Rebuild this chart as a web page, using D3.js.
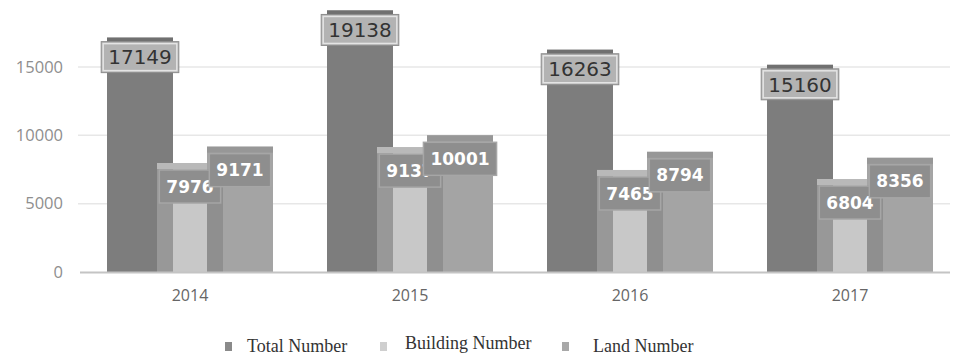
<!DOCTYPE html>
<html>
<head>
<meta charset="utf-8">
<script src="https://cdn.jsdelivr.net/npm/d3@7/dist/d3.min.js"></script>
<style>
  html, body { margin: 0; padding: 0; background: #fff; }
  svg { display: block; }
</style>
</head>
<body>
<svg id="chart" width="961" height="359"></svg>
<script>
// Yearly counts by category
const years = ["2014", "2015", "2016", "2017"];
const seriesNames = ["Total Number", "Building Number", "Land Number"];
const totalValues = [17149, 19138, 16263, 15160];
const buildingValues = [7976, 9137, 7465, 6804];
const landValues = [9171, 10001, 8794, 8356];
const yTicks = [0, 5000, 10000, 15000];

const seriesValues = [totalValues, buildingValues, landValues];
const fills = ["#7d7d7d", "#c8c8c8", "#a4a4a4"];
const caps = ["#707070", "#b9b9b9", "#979797"];
const overlapFills = ["#989898", "#8f8f8f"];
const legendFills = ["#8a8a8a", "#cfcfcf", "#a8a8a8"];

const svg = d3.select("#chart");

const x = d3.scaleBand().domain(years).range([80, 960]).paddingInner(0).paddingOuter(0);
const y = d3.scaleLinear().domain([0, 15000]).range([272, 67]);
const offset = d3.scalePoint().domain(seriesNames).range([-50, 50]);
const barW = 66;

// gridlines
svg.append("g")
  .selectAll("line")
  .data(yTicks.filter(d => d > 0))
  .join("line")
  .attr("x1", 78).attr("x2", 950)
  .attr("y1", d => y(d)).attr("y2", d => y(d))
  .attr("stroke", "#e7e7e7").attr("stroke-width", 1.5);

// y axis labels
const yAxis = d3.axisLeft(y).tickValues(yTicks).tickSize(0).tickPadding(0).tickFormat(d3.format("d"));
const yg = svg.append("g").attr("transform", "translate(63,0)").call(yAxis);
yg.select(".domain").remove();
yg.selectAll("text")
  .attr("font-family", "Open Sans").attr("font-size", 16.5).attr("fill", "#8e8e8e");

// bars
const bars = [];
years.forEach((yr, i) => {
  seriesNames.forEach((s, k) => {
    bars.push({ year: yr, series: s, k: k, value: seriesValues[k][i],
      x0: x(yr) + x.bandwidth() / 2 + offset(s) - barW / 2 });
  });
});

const barG = svg.append("g");
bars.forEach(b => {
  barG.append("rect")
    .attr("x", b.x0).attr("y", y(b.value))
    .attr("width", barW).attr("height", y(0) - y(b.value))
    .attr("fill", fills[b.k]);
  barG.append("rect")
    .attr("x", b.x0).attr("y", y(b.value))
    .attr("width", barW).attr("height", 6)
    .attr("fill", caps[b.k]);
});

// shaded strips where neighbouring bars overlap
years.forEach((yr, i) => {
  for (let k = 0; k < 2; k++) {
    const a = bars.find(b => b.year === yr && b.k === k);
    const c = bars.find(b => b.year === yr && b.k === k + 1);
    const top = y(Math.min(a.value, c.value));
    barG.append("rect")
      .attr("x", c.x0).attr("y", top + 6)
      .attr("width", a.x0 + barW - c.x0).attr("height", y(0) - top - 6)
      .attr("fill", overlapFills[k]);
  }
});

// baseline
svg.append("line")
  .attr("x1", 80).attr("x2", 950).attr("y1", y(0) + 0.5).attr("y2", y(0) + 0.5)
  .attr("stroke", "#c4c4c4").attr("stroke-width", 2);

// x axis labels
const xAxis = d3.axisBottom(x).tickSize(0).tickPadding(0);
const xg = svg.append("g").attr("transform", "translate(0,290)").call(xAxis);
xg.select(".domain").remove();
xg.selectAll("text")
  .attr("font-family", "Open Sans").attr("font-size", 16).attr("fill", "#666").attr("dy", "0.71em")
  .attr("y", 0);

// value labels: total first, then building, then land (land drawn last, on top)
const labelG = svg.append("g");
[0, 1, 2].forEach(k => {
  bars.filter(b => b.k === k).forEach(b => {
    const cx = b.x0 + barW / 2;
    const g = labelG.append("g");
    const t = g.append("text")
      .attr("x", cx)
      .attr("text-anchor", "middle")
      .attr("font-family", "DejaVu Sans")
      .text(b.value);
    if (k === 0) {
      t.attr("font-size", 20).attr("fill", "#333");
    } else {
      t.attr("font-size", 17).attr("font-weight", "bold").attr("fill", "#fff");
    }
    const w = t.node().getComputedTextLength();
    const pad = 7;
    const h = k === 0 ? 31 : 33;
    const top = y(b.value) + (k === 0 ? 4 : 7);
    t.attr("y", top + h / 2).attr("dy", "0.36em");
    const r = g.insert("rect", "text")
      .attr("x", cx - w / 2 - pad).attr("y", top)
      .attr("width", w + 2 * pad).attr("height", h);
    if (k === 0) {
      r.attr("fill", "#b3b3b3").attr("stroke", "#8d8d8d").attr("stroke-width", 1);
      g.insert("rect", "text")
        .attr("x", cx - w / 2 - pad + 2).attr("y", top + 2)
        .attr("width", w + 2 * pad - 4).attr("height", h - 4)
        .attr("fill", "none").attr("stroke", "#e4e4e4").attr("stroke-width", 1.5);
    } else {
      r.attr("fill", "#8e8e8e").attr("stroke", "#a6a6a6").attr("stroke-width", 1.5);
    }
  });
});

// legend
const legendX = [225, 380, 562];
const legendDy = [0, -3, 0];
const lg = svg.append("g");
seriesNames.forEach((s, k) => {
  lg.append("rect")
    .attr("x", legendX[k]).attr("y", 342)
    .attr("width", 7).attr("height", 9)
    .attr("fill", legendFills[k]);
  lg.append("text")
    .attr("x", legendX[k] + [22, 25, 31][k]).attr("y", 352 + legendDy[k])
    .attr("font-family", "Liberation Serif").attr("font-size", 18)
    .attr("fill", "#333")
    .text(s);
});
</script>
</body>
</html>
